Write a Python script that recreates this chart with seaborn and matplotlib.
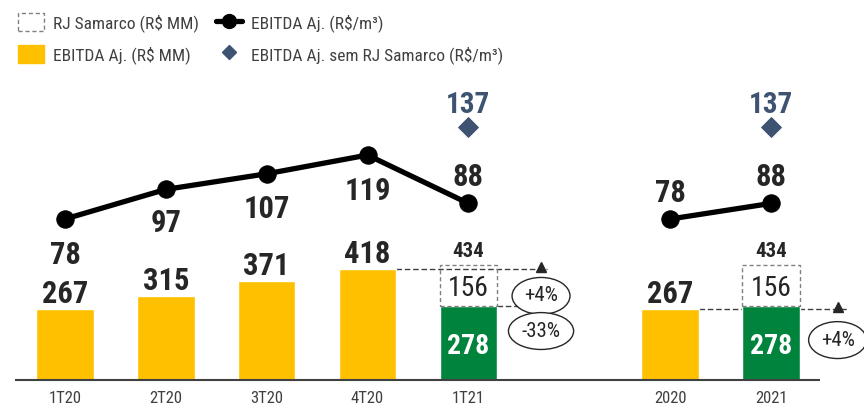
import matplotlib
matplotlib.use("Agg")
import matplotlib.pyplot as plt
from matplotlib.patches import Patch
from matplotlib.lines import Line2D
import seaborn as sns
import pandas as pd

# ---------------- data ----------------
categories = ['1T20', '2T20', '3T20', '4T20', '1T21', '2020', '2021']
ebitda_mm = [267, 315, 371, 418, 278, 267, 278]           # EBITDA Aj. (R$ MM)
rj_samarco_mm = [0, 0, 0, 0, 156, 0, 156]                  # RJ Samarco (R$ MM)
ebitda_m3 = [78, 97, 107, 119, 88, 78, 88]                 # EBITDA Aj. (R$/m³)
ebitda_sem_rj = [None, None, None, None, 137, None, 137]   # EBITDA Aj. sem RJ Samarco (R$/m³)
line_groups = [['1T20', '2T20', '3T20', '4T20', '1T21'], ['2020', '2021']]
var_labels = ['+4%', '-33%', '+4%']
order = ['1T20', '2T20', '3T20', '4T20', '1T21', ' ', '2020', '2021']

# ---------------- style ----------------
YELLOW = '#FFC000'
GREEN = '#00843D'
DIAMOND = '#3E5272'
TXT = '#262626'
GRAY = '#404040'
COND = ['Roboto Condensed', 'Liberation Sans', 'DejaVu Sans']
colors = {c: (GREEN if c in ('1T21', '2021') else YELLOW) for c in categories}
line_label_offsets = [-24, -22, -23, -24, 21, 21, 21]  # points

sns.set_theme(style='white')
plt.rcParams['font.family'] = COND

fig = plt.figure(figsize=(8.64, 4.09), dpi=100)
ax = fig.add_axes([0, 29 / 409, 1, 380 / 409])

df = pd.DataFrame({'cat': categories, 'ebitda': ebitda_mm})
sns.barplot(data=df, x='cat', y='ebitda', order=order, hue='cat', palette=colors,
            width=0.57, legend=False, ax=ax, saturation=1, zorder=2)

pos = {c: order.index(c) for c in categories}
ax.set_xlim(-0.644, 7.922)
ax.set_ylim(0, 1428)
for s in ax.spines.values():
    s.set_visible(False)
ax.set_yticks([])
ax.set_xlabel('')
ax.set_ylabel('')
ax.set_xticks([pos[c] for c in categories])
ax.set_xticklabels(categories, fontsize=12, color=GRAY)
ax.tick_params(axis='x', length=0, pad=8)
ax.hlines(0, -0.5, 7.49, color=GRAY, lw=1.5, zorder=3, clip_on=False)

# dashed RJ Samarco boxes and bar labels
for c, e, r in zip(categories, ebitda_mm, rj_samarco_mm):
    x = pos[c]
    if r:
        ax.bar(x, r, bottom=e, width=0.57, fill=False, edgecolor='#808080',
               linestyle=(0, (3, 2)), lw=1.0, zorder=2)
        ax.text(x, e + r / 2, f'{r}', ha='center', va='center_baseline', fontsize=20,
                color=TXT)
        ax.text(x, e + r + 30, f'{e + r}', ha='center', va='baseline', fontsize=15,
                fontweight='bold', color=TXT)
        ax.text(x, e / 2, f'{e}', ha='center', va='center_baseline', fontsize=20,
                fontweight='bold', color='white')
    else:
        ax.text(x, e + 22, f'{e}', ha='center', va='baseline', fontsize=22,
                fontweight='bold', color=TXT)

# variation annotations
dash = dict(color='#404040', lw=1.0, linestyle=(0, (4, 2)), zorder=1)
i4t = categories.index('4T20')
i1t = categories.index('1T21')
i20 = categories.index('2020')
ax.hlines(ebitda_mm[i4t], pos['4T20'] + 0.285, 4.78, **dash)
ax.hlines(ebitda_mm[i1t], pos['1T21'] + 0.285, 4.72, **dash)
ax.hlines(ebitda_mm[i20], pos['2020'] + 0.285, 7.75, **dash)
ax.plot([4.72], [ebitda_mm[i4t] + 8], marker='^', color='#262626', ms=7, zorder=4)
ax.plot([7.66], [ebitda_mm[i20] + 8], marker='^', color='#262626', ms=7, zorder=4)
ell = dict(boxstyle='ellipse,pad=0.17', fc='white', ec='#262626', lw=1.0)
ax.text(4.72, 316, var_labels[0], ha='center', va='center', fontsize=15,
        color=TXT, bbox=ell, zorder=5)
ax.text(4.72, 184, var_labels[1], ha='center', va='center', fontsize=15,
        color=TXT, bbox=ell, zorder=5)
ax.text(7.66, 150, var_labels[2], ha='center', va='center', fontsize=15,
        color=TXT, bbox=ell, zorder=5)

# line on twin axis
ax2 = ax.twinx()
ax2.set_position(ax.get_position())
ax2.set_ylim(-25.2, 218.4)
ax2.set_yticks([])
for s in ax2.spines.values():
    s.set_visible(False)
for grp in line_groups:
    xs = [pos[c] for c in grp]
    ys = [ebitda_m3[categories.index(c)] for c in grp]
    sns.lineplot(x=xs, y=ys, ax=ax2, color='black', lw=3.8, marker='o', ms=12.5,
                 markeredgecolor='black', sort=False, zorder=6)
for c, v, off in zip(categories, ebitda_m3, line_label_offsets):
    ax2.annotate(f'{v}', (pos[c], v), xytext=(0, off), textcoords='offset points',
                 ha='center', va='center_baseline', fontsize=22, fontweight='bold',
                 color=TXT)
dx = [pos[c] for c, v in zip(categories, ebitda_sem_rj) if v is not None]
dy = [v for v in ebitda_sem_rj if v is not None]
sns.scatterplot(x=dx, y=dy, ax=ax2, marker='D', color=DIAMOND, s=100,
                edgecolor=DIAMOND, zorder=6)
for x, v in zip(dx, dy):
    ax2.annotate(f'{v}', (x, v), xytext=(0, 18), textcoords='offset points',
                 ha='center', va='center_baseline', fontsize=21, fontweight='bold',
                 color=DIAMOND)
ax2.set_xlim(ax.get_xlim())

# legend
handles = [
    Patch(facecolor='white', edgecolor='#808080', linestyle=(0, (3, 2)), lw=1.0),
    Patch(facecolor=YELLOW, edgecolor=YELLOW),
    Line2D([0], [0], color='black', lw=3.8, marker='o', ms=10),
    Line2D([0], [0], color=DIAMOND, lw=0, marker='D', ms=7),
]
labels = ['RJ Samarco (R$ MM)', 'EBITDA Aj. (R$ MM)', 'EBITDA Aj. (R$/m³)',
          'EBITDA Aj. sem RJ Samarco (R$/m³)']
fig.legend(handles, labels, ncol=2, loc='upper left', bbox_to_anchor=(0.006, 1.0),
           frameon=False, fontsize=12.5, handlelength=1.5, handleheight=1.25,
           handletextpad=0.5, columnspacing=1.0, labelspacing=0.75,
           borderaxespad=0, borderpad=0.75, labelcolor=GRAY)

fig.savefig('out.png', dpi=100)
